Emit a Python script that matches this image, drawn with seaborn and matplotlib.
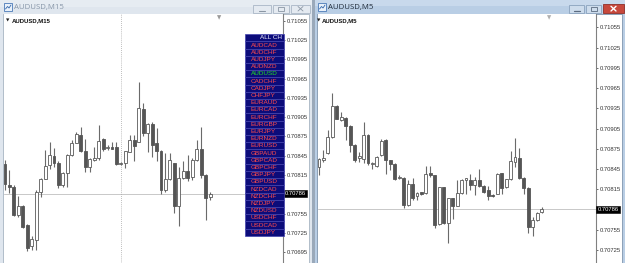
import matplotlib
matplotlib.use("Agg")
import matplotlib.pyplot as plt
import matplotlib.transforms as mtransforms
from matplotlib.patches import Rectangle
import numpy as np
import pandas as pd
import seaborn as sns

sns.set_theme(style="white")
plt.rcParams['font.family'] = ['Liberation Sans', 'DejaVu Sans']

# ---------------- data ----------------
m15_open = [0.70832, 0.70800, 0.70797, 0.70753, 0.70766, 0.70737, 0.70705, 0.70714, 0.70789, 0.70809,
            0.70830, 0.70844, 0.70834, 0.70799, 0.70818, 0.70846, 0.70865, 0.70877, 0.70853, 0.70827,
            0.70838, 0.70841, 0.70871, 0.70857, 0.70858, 0.70859, 0.70832, 0.70834, 0.70851, 0.70869,
            0.70867, 0.70917, 0.70880, 0.70895, 0.70865, 0.70853, 0.70791, 0.70808, 0.70833, 0.70766,
            0.70810, 0.70821, 0.70812, 0.70838, 0.70855, 0.70815, 0.70780]
m15_high = [0.70838, 0.70823, 0.70799, 0.70782, 0.70768, 0.70739, 0.70720, 0.70792, 0.70810, 0.70854,
            0.70867, 0.70857, 0.70837, 0.70820, 0.70848, 0.70869, 0.70882, 0.70890, 0.70871, 0.70842,
            0.70859, 0.70892, 0.70873, 0.70862, 0.70867, 0.70866, 0.70835, 0.70853, 0.70877, 0.70877,
            0.70959, 0.70927, 0.70896, 0.70897, 0.70888, 0.70854, 0.70849, 0.70849, 0.70834, 0.70827,
            0.70837, 0.70846, 0.70841, 0.70870, 0.70890, 0.70816, 0.70789]
m15_low = [0.70792, 0.70787, 0.70751, 0.70750, 0.70733, 0.70697, 0.70698, 0.70698, 0.70781, 0.70808,
           0.70825, 0.70827, 0.70795, 0.70797, 0.70796, 0.70844, 0.70864, 0.70851, 0.70819, 0.70820,
           0.70837, 0.70839, 0.70853, 0.70854, 0.70855, 0.70831, 0.70831, 0.70826, 0.70850, 0.70836,
           0.70866, 0.70875, 0.70851, 0.70843, 0.70836, 0.70786, 0.70789, 0.70807, 0.70756, 0.70736,
           0.70809, 0.70805, 0.70807, 0.70837, 0.70810, 0.70745, 0.70776]
m15_close = [0.70801, 0.70796, 0.70753, 0.70766, 0.70734, 0.70702, 0.70715, 0.70789, 0.70809, 0.70829,
             0.70846, 0.70834, 0.70799, 0.70818, 0.70846, 0.70865, 0.70879, 0.70853, 0.70827, 0.70840,
             0.70841, 0.70868, 0.70856, 0.70859, 0.70856, 0.70832, 0.70834, 0.70852, 0.70870, 0.70860,
             0.70919, 0.70880, 0.70895, 0.70862, 0.70853, 0.70791, 0.70808, 0.70838, 0.70766, 0.70810,
             0.70821, 0.70811, 0.70838, 0.70855, 0.70815, 0.70779, 0.70786]

m5_open = [0.70848, 0.70859, 0.70869, 0.70892, 0.70939, 0.70918, 0.70921, 0.70909, 0.70881, 0.70861,
           0.70860, 0.70896, 0.70853, 0.70850, 0.70866, 0.70888, 0.70858, 0.70853, 0.70832, 0.70832,
           0.70792, 0.70823, 0.70805, 0.70811, 0.70810, 0.70839, 0.70836, 0.70764, 0.70818, 0.70766,
           0.70802, 0.70791, 0.70810, 0.70829, 0.70829, 0.70822, 0.70829, 0.70820, 0.70814, 0.70807,
           0.70809, 0.70839, 0.70818, 0.70830, 0.70855, 0.70861, 0.70832, 0.70817, 0.70760, 0.70770,
           0.70781]
m5_high = [0.70861, 0.70873, 0.70903, 0.70958, 0.70940, 0.70929, 0.70922, 0.70910, 0.70882, 0.70871,
           0.70915, 0.70897, 0.70856, 0.70864, 0.70889, 0.70889, 0.70859, 0.70854, 0.70836, 0.70833,
           0.70829, 0.70832, 0.70811, 0.70812, 0.70850, 0.70850, 0.70837, 0.70819, 0.70819, 0.70803,
           0.70803, 0.70829, 0.70830, 0.70832, 0.70838, 0.70834, 0.70846, 0.70821, 0.70820, 0.70809,
           0.70840, 0.70840, 0.70831, 0.70872, 0.70891, 0.70876, 0.70833, 0.70818, 0.70775, 0.70781,
           0.70789]
m5_low = [0.70836, 0.70856, 0.70867, 0.70891, 0.70919, 0.70917, 0.70888, 0.70871, 0.70856, 0.70856,
          0.70854, 0.70851, 0.70846, 0.70848, 0.70865, 0.70838, 0.70844, 0.70829, 0.70831, 0.70787,
          0.70791, 0.70799, 0.70799, 0.70807, 0.70809, 0.70834, 0.70758, 0.70762, 0.70764, 0.70736,
          0.70772, 0.70790, 0.70809, 0.70809, 0.70814, 0.70807, 0.70819, 0.70810, 0.70799, 0.70804,
          0.70808, 0.70809, 0.70817, 0.70829, 0.70849, 0.70831, 0.70809, 0.70750, 0.70746, 0.70769,
          0.70780]
m5_close = [0.70860, 0.70861, 0.70892, 0.70939, 0.70920, 0.70922, 0.70909, 0.70881, 0.70859, 0.70864,
            0.70896, 0.70854, 0.70854, 0.70863, 0.70887, 0.70858, 0.70853, 0.70830, 0.70833, 0.70792,
            0.70823, 0.70802, 0.70810, 0.70808, 0.70838, 0.70837, 0.70762, 0.70818, 0.70766, 0.70802,
            0.70790, 0.70810, 0.70829, 0.70832, 0.70822, 0.70829, 0.70820, 0.70812, 0.70805, 0.70806,
            0.70838, 0.70817, 0.70830, 0.70857, 0.70863, 0.70832, 0.70817, 0.70760, 0.70770, 0.70780,
            0.70786]

m15_ticks = [0.71055, 0.71025, 0.70995, 0.70965, 0.70935, 0.70905, 0.70875, 0.70845, 0.70815,
             0.70755, 0.70725, 0.70695]
m5_ticks = [0.71055, 0.71025, 0.70995, 0.70965, 0.70935, 0.70905, 0.70875, 0.70845, 0.70815,
            0.70755, 0.70725]
current_price = 0.70786
m15_separator = 26

symbols = ["ALL CH", "AUDCAD", "AUDCHF", "AUDJPY", "AUDNZD", "AUDUSD", "CADCHF", "CADJPY",
           "CHFJPY", "EURAUD", "EURCAD", "EURCHF", "EURGBP", "EURJPY", "EURNZD", "EURUSD",
           "GBPAUD", "GBPCAD", "GBPCHF", "GBPJPY", "GBPUSD", "NZDCAD", "NZDCHF", "NZDJPY",
           "NZDUSD", "USDCHF", "USDCAD", "USDJPY"]
active_symbol = "AUDUSD"
left_title = "AUDUSD,M15"
right_title = "AUDUSD,M5"

# ---------------- figure ----------------
W, H = 625, 263
fig = plt.figure(figsize=(W / 100, H / 100), dpi=100)
fig.patch.set_facecolor('#c9d5e2')


def fr(x0, y0, x1, y1):
    return [x0 / W, 1 - y1 / H, (x1 - x0) / W, (y1 - y0) / H]


bg = fig.add_axes([0, 0, 1, 1], zorder=0)
bg.set_xlim(0, W)
bg.set_ylim(H, 0)
bg.axis('off')


def rect(ax, x0, y0, x1, y1, fc, ec='none', lw=0.0, z=1, **kw):
    p = Rectangle((x0, y0), x1 - x0, y1 - y0, facecolor=fc, edgecolor=ec, linewidth=lw, zorder=z, **kw)
    ax.add_patch(p)
    return p


# left window (inactive)
rect(bg, 0, 0, 312, 263, '#dfe6ee')
rect(bg, 0, 0, 312, 7, '#e6ecf2')
rect(bg, 3, 14, 309, 263, 'white', ec='#a7b4c2', lw=0.6)
# right window (active)
rect(bg, 312, 0, 315, 263, '#9aa9ba')
rect(bg, 315, 0, 625, 263, '#b9cee5')
rect(bg, 315, 0, 625, 6, '#c8d9ec')
rect(bg, 317, 14, 622, 263, 'white', ec='#7f95ad', lw=0.6)

# window icons
for x0 in (4, 318):
    rect(bg, x0, 3, x0 + 8, 11, '#e9f1fa', ec='#4a7ab8', lw=0.6, z=2)
    bg.plot([x0 + 1.5, x0 + 3.5, x0 + 5, x0 + 7], [9, 6.5, 8, 5], color='#3366aa', lw=0.6, zorder=3)

bg.text(14, 8, left_title, fontsize=5.6, color='#8796a8', va='center', ha='left',
        family=['Open Sans', 'DejaVu Sans'])
bg.text(328, 8, right_title, fontsize=5.6, color='#1f2b3a', va='center', ha='left',
        family=['Open Sans', 'DejaVu Sans'])

# title buttons - left (inactive)
for (x0, x1) in [(253, 271), (273, 289), (291, 310)]:
    rect(bg, x0, 4.5, x1, 13, '#e4eaf1', ec='#a9b6c6', lw=0.6, z=2)
bg.plot([259, 265], [10.5, 10.5], color='#8a96a4', lw=0.8, zorder=3)
rect(bg, 278, 6.8, 284, 10.8, 'none', ec='#8a96a4', lw=0.6, z=3)
bg.plot([298, 303], [6.5, 11], color='#8a96a4', lw=0.6, zorder=3)
bg.plot([298, 303], [11, 6.5], color='#8a96a4', lw=0.6, zorder=3)
# title buttons - right (active)
for (x0, x1) in [(569, 584), (586, 601)]:
    rect(bg, x0, 4.5, x1, 13, '#cddcec', ec='#8aa2bd', lw=0.6, z=2)
bg.plot([574, 580], [10.5, 10.5], color='#5b6b80', lw=0.9, zorder=3)
rect(bg, 590.5, 7, 596.5, 10.5, 'none', ec='#5b6b80', lw=0.6, z=3)
rect(bg, 603, 4, 624, 13, '#c7483c', ec='#8f2f28', lw=0.6, z=2)
bg.plot([611, 616], [6.3, 11], color='white', lw=1.0, zorder=3)
bg.plot([611, 616], [11, 6.3], color='white', lw=1.0, zorder=3)


# ---------------- charts ----------------
def draw_candles(ax, o, h, l, c):
    df = pd.DataFrame({'open': o, 'high': h, 'low': l, 'close': c})
    df['idx'] = np.arange(len(df))
    bull = df['close'] >= df['open']
    ax.vlines(df['idx'], df['low'], df['high'], color='#6a6a6a', lw=0.8, zorder=2)
    bottom = np.minimum(df['open'], df['close'])
    height = np.maximum((df['close'] - df['open']).abs(), 0.000012)
    ax.bar(df['idx'][bull], height[bull], bottom=bottom[bull], width=0.66,
           facecolor='white', edgecolor='#5a5a5a', linewidth=0.6, zorder=3)
    ax.bar(df['idx'][~bull], height[~bull], bottom=bottom[~bull], width=0.66,
           facecolor='#555555', edgecolor='#555555', linewidth=0.6, zorder=3)


def setup(ax, xlim, ylim, ticks):
    ax.set_xlim(*xlim)
    ax.set_ylim(*ylim)
    ax.set_facecolor('white')
    for s in ['left', 'top', 'bottom']:
        ax.spines[s].set_visible(False)
    ax.spines['right'].set_color('#808080')
    ax.spines['right'].set_linewidth(0.8)
    ax.set_xticks([])
    ax.yaxis.tick_right()
    ax.set_yticks(ticks)
    ax.set_yticklabels([f"{t:.5f}" for t in ticks])
    ax.tick_params(axis='y', right=True, left=False, length=1.5, width=0.5, pad=1.2,
                   labelsize=4.2, colors='#333333', labelcolor='#333333', direction='out')
    ax.grid(False)
    ax.axhline(current_price, color='#c8c8c8', lw=0.7, zorder=1)
    off = mtransforms.offset_copy(ax.get_yaxis_transform(), fig=fig, x=1.5, y=0, units='dots')
    ax.text(1.0, current_price, f"{current_price:.5f}", transform=off, fontsize=4.2, color='white',
            ha='left', va='center', clip_on=False, zorder=6,
            bbox=dict(boxstyle='square,pad=0.18', fc='black', ec='black', lw=0.4))


axL = fig.add_axes(fr(4, 14, 283, 263), zorder=2)
setup(axL, (-0.224, 62.37), (0.706780, 0.710654), m15_ticks)
axL.axvline(m15_separator, color='#a8a8a8', lw=0.6, ls=(0, (1, 1.5)), zorder=1)
draw_candles(axL, m15_open, m15_high, m15_low, m15_close)

axR = fig.add_axes(fr(318, 14, 596, 263), zorder=2)
setup(axR, (-0.2245, 62.19), (0.707062, 0.710747), m5_ticks)
draw_candles(axR, m5_open, m5_high, m5_low, m5_close)

# ---------------- overlay ----------------
top = fig.add_axes([0, 0, 1, 1], zorder=5)
top.set_xlim(0, W)
top.set_ylim(H, 0)
top.axis('off')
top.patch.set_alpha(0)

for (x, tri, title) in [(5, 12, left_title), (316, 322, right_title)]:
    top.text(x + 0.5, 20.7, "\u25BC", fontsize=3.2, color='#222222', va='center', ha='left',
             family=['DejaVu Sans'])
    top.text(tri, 20.7, title, fontsize=4.3, color='#111111', va='center', ha='left', fontweight='bold')
top.text(219, 17.5, "\u25BC", fontsize=4, color='#9a9a9a', va='center', ha='center', family=['DejaVu Sans'])
top.text(549, 18, "\u25BC", fontsize=4, color='#b0b0b0', va='center', ha='center', family=['DejaVu Sans'])

row_h = 7.2
y0 = 34.1
for i, s in enumerate(symbols):
    ya = y0 + i * row_h
    p = rect(top, 245, ya, 283.5, ya + row_h, '#0c0c7a', ec='#4343ad', lw=0.5, z=6)
    if i == 0:
        t = top.text(260, ya + row_h / 2 + 0.2, s, fontsize=4.6, color='#f0f0ff', va='center',
                     ha='left', zorder=7)
    else:
        col = '#22e022' if s == active_symbol else '#ff4c4c'
        t = top.text(250.5, ya + row_h / 2 + 0.2, s, fontsize=4.6, color=col, va='center',
                     ha='left', zorder=7)
    t.set_clip_path(p)

fig.savefig("out.png", dpi=100, facecolor=fig.get_facecolor())
